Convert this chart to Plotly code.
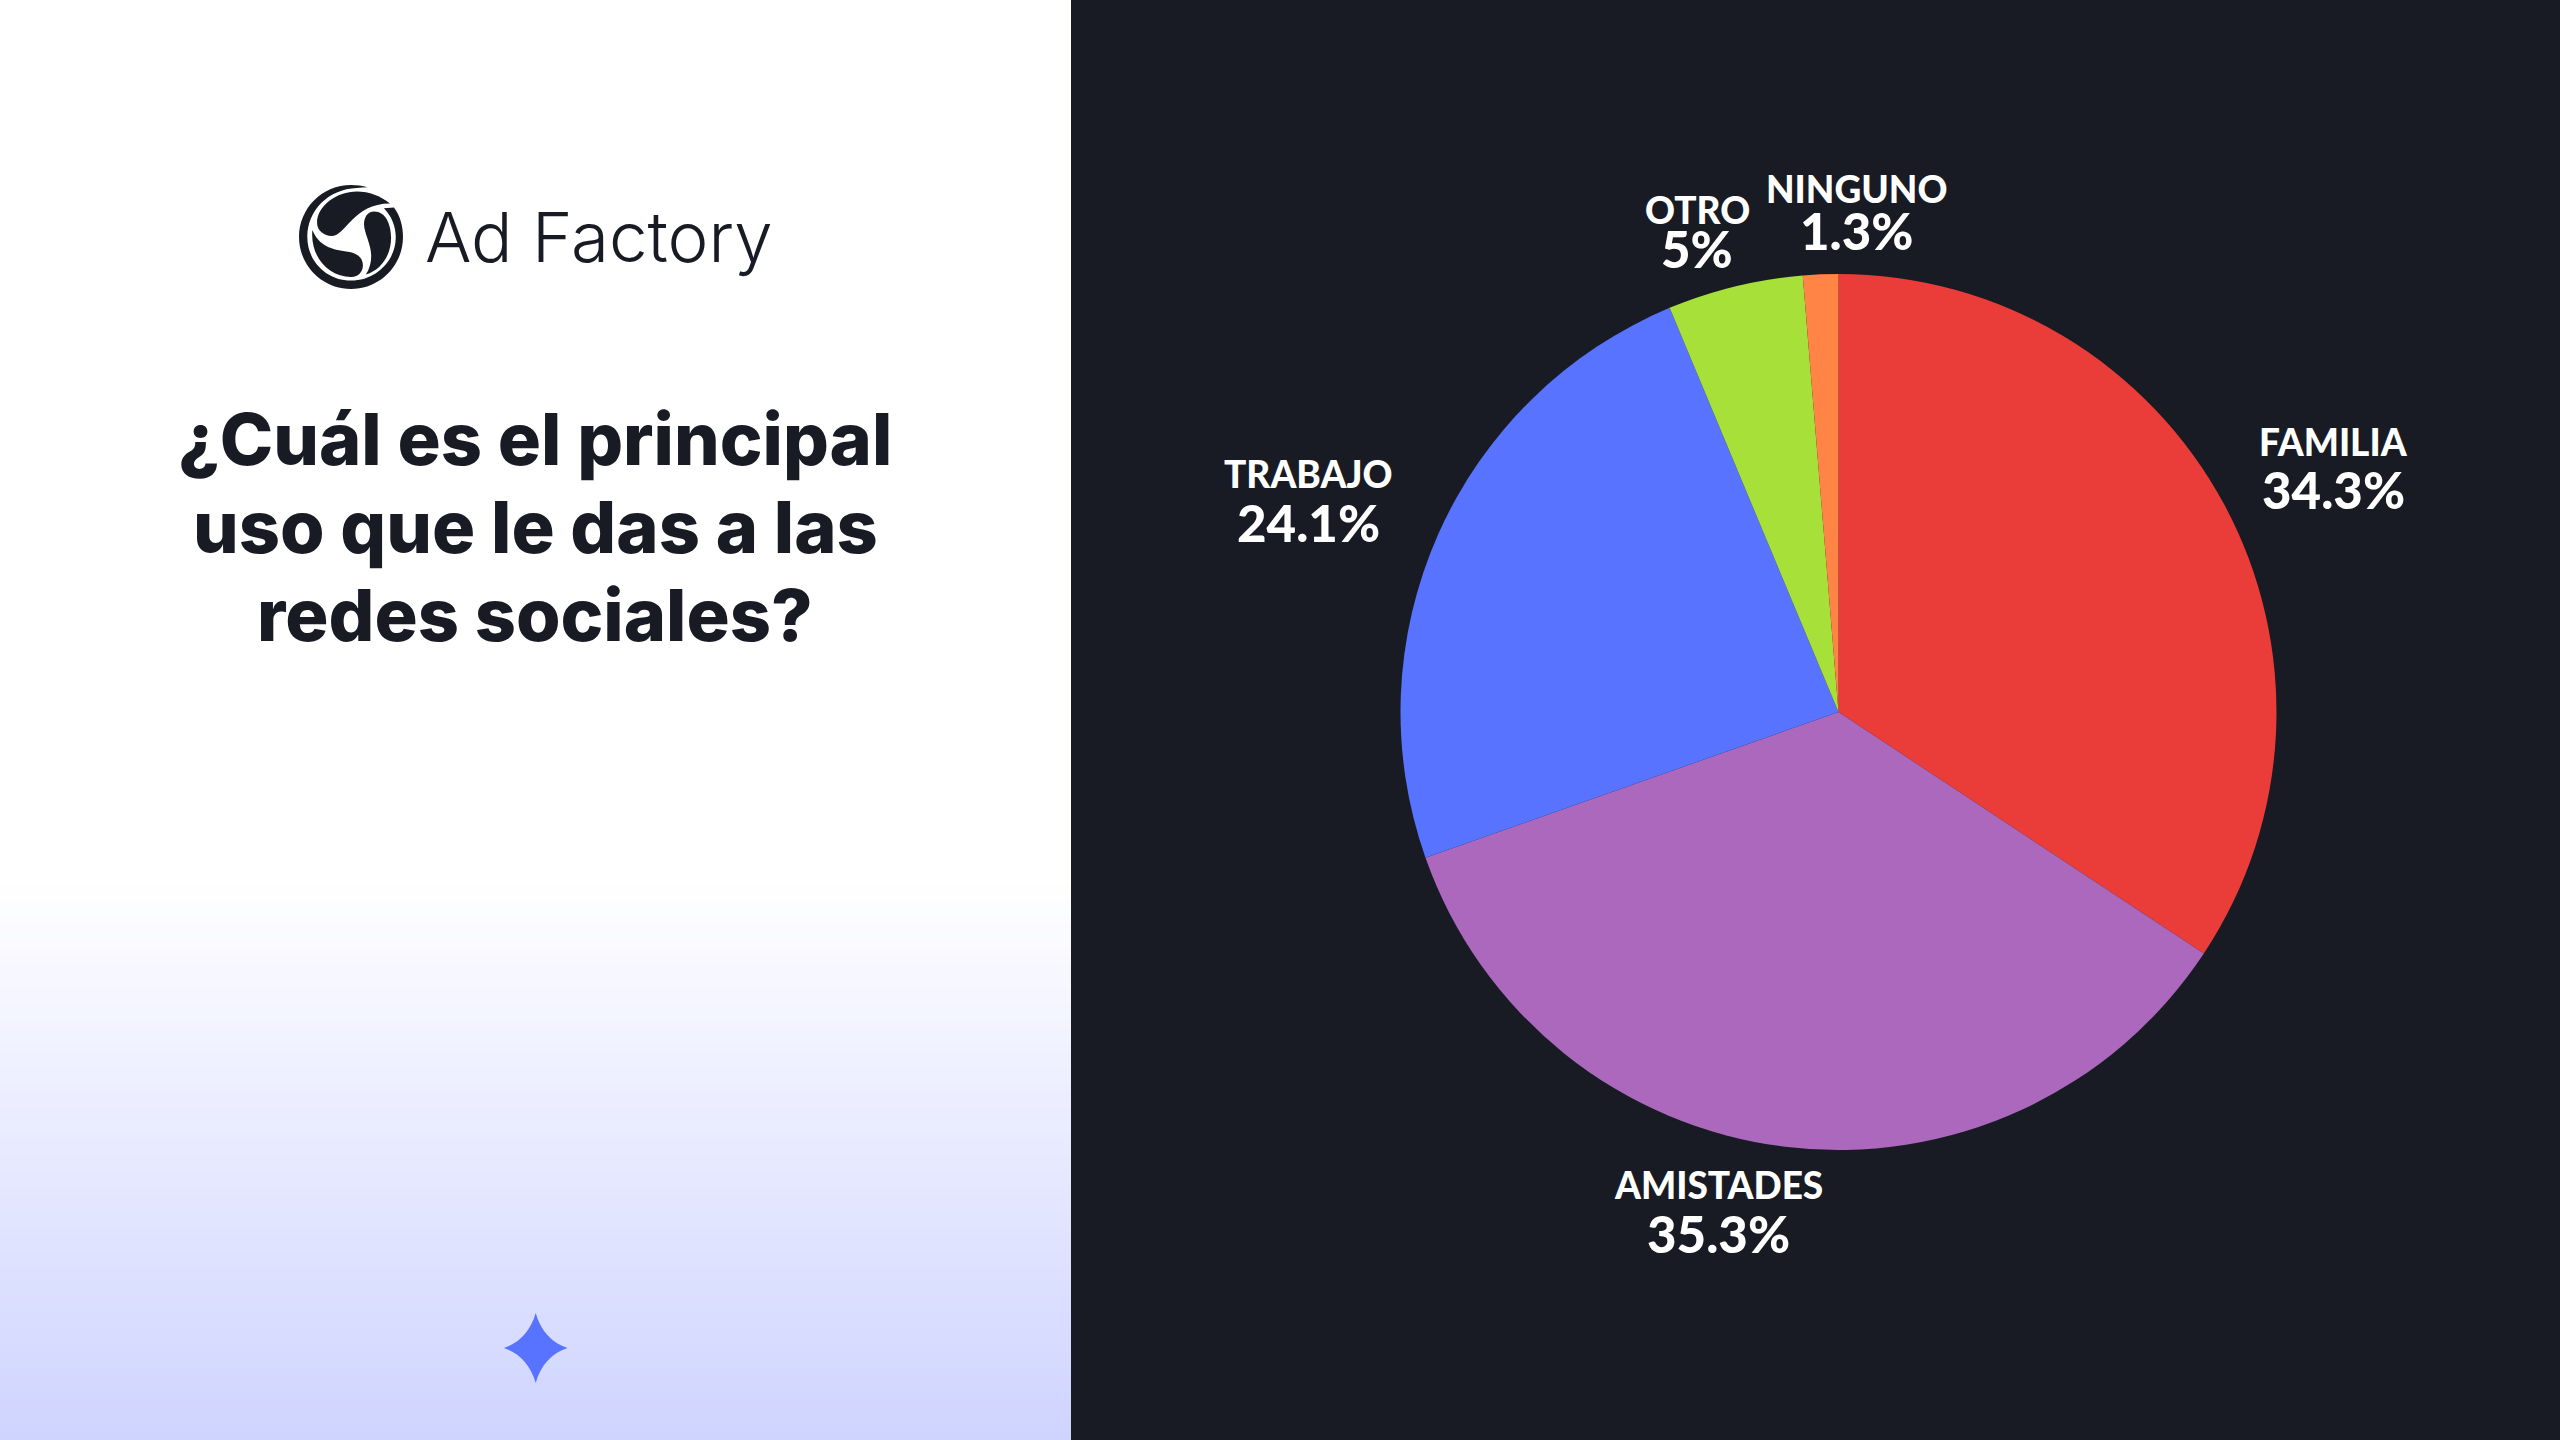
import re
import plotly.graph_objects as go

W, H = 2560, 1440

# chart data
labels = ["FAMILIA", "AMISTADES", "TRABAJO", "OTRO", "NINGUNO"]
values = [34.3, 35.3, 24.1, 5, 1.3]
value_text = ["34.3%", "35.3%", "24.1%", "5%", "1.3%"]
title_lines = ["¿Cuál es el principal", "uso que le das a las", "redes sociales?"]
brand = "Ad Factory"

colors = ["#EA3C38", "#AC68BD", "#5773FF", "#A8E03A", "#FF8445"]
DARK = "#181B23"

# pixel centres of the text blocks: (x, y name, y value)
label_pos = [(2333, 441, 489), (1718, 1184, 1233), (1308, 473, 523), (1697, 209, 249), (1856, 189, 231)]
title_y = [438, 526, 614]

CX, CY, R = 1838.5, 712, 438


def px(x):
    return x / W


def py(y):
    return 1 - y / H


def svg_path(d, fx, fy):
    # turn a path in local pixel coordinates into paper coordinates
    out = []
    is_x = True
    for tok in re.findall(r"[A-Za-z]|-?[\d.]+", d):
        if tok.isalpha():
            out.append(tok)
            is_x = True
        else:
            v = float(tok)
            out.append(f"{px(fx(v)):.5f}" if is_x else f"{py(fy(v)):.5f}")
            is_x = not is_x
    return " ".join(out)


shapes = []
# panels
shapes.append(dict(type="rect", xref="paper", yref="paper", x0=0, x1=1, y0=0, y1=1,
                   fillcolor=DARK, line_width=0, layer="below"))
shapes.append(dict(type="rect", xref="paper", yref="paper", x0=0, x1=px(1071), y0=0, y1=1,
                   fillcolor="#FFFFFF", line_width=0, layer="below"))
# gradient of the left panel, painted top to bottom
top, bottom = 885, 1440
steps = 70
for i in range(steps):
    t = (i + 1) / steps
    c = (round(255 + (207 - 255) * t), round(255 + (212 - 255) * t), 255)
    shapes.append(dict(type="rect", xref="paper", yref="paper", x0=0, x1=px(1071),
                       y0=0, y1=py(top + (bottom - top) * i / steps),
                       fillcolor=f"rgb{c}", line_width=0, layer="below"))

# star
star = ("M 535.7 1313 C 540.7 1331 552 1343 567.5 1348 C 552 1353 540.7 1365 535.7 1383 "
        "C 530.7 1365 519 1353 504 1348 C 519 1343 530.7 1331 535.7 1313 Z")
shapes.append(dict(type="path", xref="paper", yref="paper", path=svg_path(star, lambda v: v, lambda v: v),
                   fillcolor="#5773FF", line_width=0))

# logo mark
fx = lambda v: 351 + (v - 254) / 144 * 52
fy = lambda v: 237 + (v - 228) / 155 * 52
logo = [
    "M 300 80 C 285 75 270 73 254 73 C 175 73 110 142 110 228 C 110 314 175 383 254 383 C 333 383 398 314 398 228 C 398 195 390 165 373 140 L 345 142 C 366 165 378 195 378 228 C 378 300 322 358 254 358 C 186 358 133 300 133 228 C 133 150 190 85 270 82 C 280 81 290 80 300 80 Z",
    "M 362 128 C 335 105 305 92 270 92 C 215 92 160 135 160 185 C 160 210 180 225 200 225 C 240 225 260 128 362 128 Z",
    "M 318 152 C 300 152 290 170 290 190 C 290 215 310 250 310 285 C 310 305 305 325 295 340 C 340 325 365 280 365 230 C 365 190 350 152 318 152 Z",
    "M 147 207 C 140 290 195 348 255 347 C 275 347 287 330 287 312 C 287 290 270 275 245 272 C 200 265 165 255 147 207 Z",
]
for d in logo:
    shapes.append(dict(type="path", xref="paper", yref="paper", path=svg_path(d, fx, fy),
                       fillcolor=DARK, line_width=0))

annotations = []


def add_text(text, x, y, size, color, family="Lato", weight=700, anchor="center"):
    annotations.append(dict(text=text, x=px(x), y=py(y), xref="paper", yref="paper",
                            xanchor=anchor, yanchor="middle", showarrow=False,
                            font=dict(family=family, size=size, color=color, weight=weight)))


add_text(brand, 423, 237, 69, DARK, family="Inter", weight=300, anchor="left")
for line, y in zip(title_lines, title_y):
    add_text(line, 535, y, 72, DARK, family="Inter", weight=800)
for name, val, (x, y1, y2) in zip(labels, value_text, label_pos):
    add_text(name, x, y1, 37, "#FFFFFF", weight=900)
    add_text(val, x, y2, 51, "#FFFFFF", weight=900)

fig = go.Figure(go.Pie(
    labels=labels,
    values=values,
    sort=False,
    direction="clockwise",
    rotation=0,
    textinfo="none",
    hoverinfo="label+percent",
    marker=dict(colors=colors, line=dict(width=0)),
    domain=dict(x=[px(CX - R), px(CX + R)], y=[py(CY + R), py(CY - R)]),
))
fig.update_layout(
    width=W, height=H, autosize=False, showlegend=False,
    margin=dict(l=0, r=0, t=0, b=0, pad=0),
    paper_bgcolor=DARK, plot_bgcolor=DARK,
    shapes=shapes, annotations=annotations,
)
fig.write_html("out.html", config=dict(displayModeBar=False),
               post_script="document.body.style.margin='0';document.body.style.overflow='hidden';")
